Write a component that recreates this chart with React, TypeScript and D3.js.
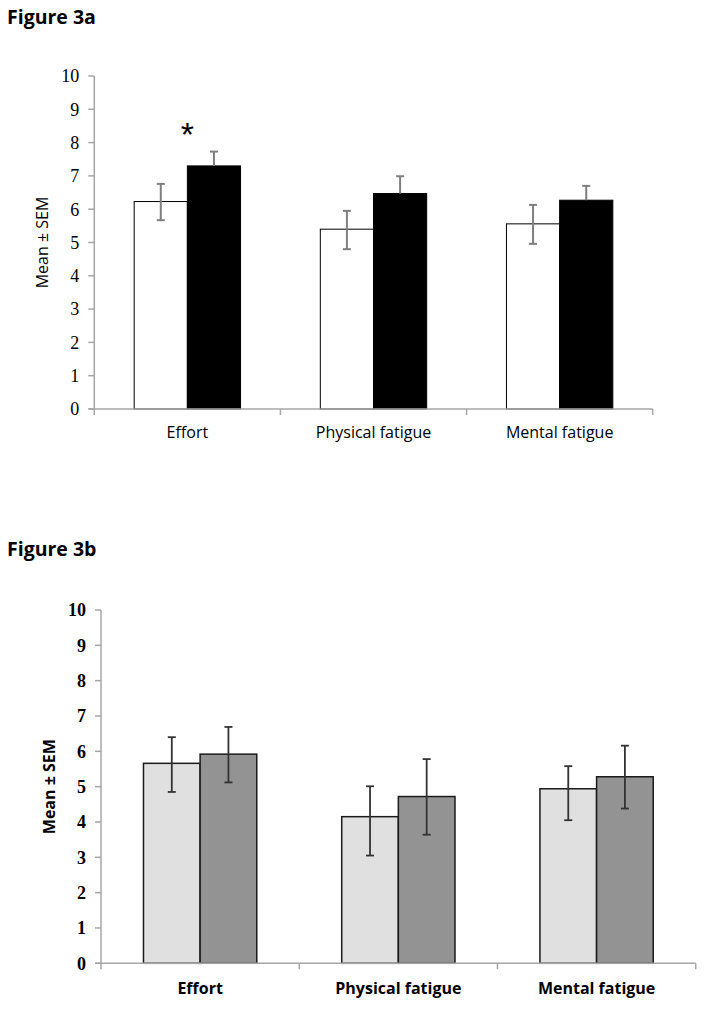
import { useRef, useEffect } from 'react';
import * as d3 from 'd3';

const categories = ['Effort', 'Physical fatigue', 'Mental fatigue'];
const yTicks = [0, 1, 2, 3, 4, 5, 6, 7, 8, 9, 10];

// Figure 3a (black series shows the upper error bar only)
const aMeanWhite = [6.23, 5.4, 5.56];
const aErrHiWhite = [6.76, 5.95, 6.13];
const aErrLoWhite = [5.67, 4.8, 4.96];
const aMeanBlack = [7.3, 6.47, 6.27];
const aErrHiBlack = [7.73, 6.99, 6.7];
const aErrLoBlack = [7.3, 6.47, 6.27];
const aSignificant = [true, false, false];

// Figure 3b
const bMeanLight = [5.66, 4.15, 4.94];
const bErrHiLight = [6.4, 5.01, 5.58];
const bErrLoLight = [4.85, 3.05, 4.05];
const bMeanDark = [5.92, 4.72, 5.28];
const bErrHiDark = [6.69, 5.78, 6.16];
const bErrLoDark = [5.12, 3.64, 4.38];

interface Series {
  mean: number[];
  hi: number[];
  lo: number[];
  fill: string;
}

interface PanelOpts {
  title: string;
  titleY: number;
  left: number;
  right: number;
  top: number;
  bottom: number;
  series: Series[];
  barStroke: string;
  barStrokeWidth: number;
  errColor: string;
  errWidth: number;
  bold: boolean;
  labelY: number;
  labelSize: number;
  starFlags?: boolean[];
}

function drawPanel(svg: d3.Selection<SVGSVGElement, unknown, null, undefined>, o: PanelOpts) {
  const g = svg.append('g');
  const axisColor = '#a6a6a6';

  const x = d3.scaleBand<string>().domain(categories).range([o.left, o.right]).paddingInner(0).paddingOuter(0);
  const y = d3.scaleLinear().domain([0, 10]).range([o.bottom, o.top]);
  // Excel-like gap width of 150%
  const inner = d3.scaleBand<number>()
    .domain(d3.range(o.series.length))
    .range([0, x.bandwidth()])
    .paddingInner(0)
    .paddingOuter(0.75);

  // title
  svg.append('text')
    .attr('x', 7)
    .attr('y', o.titleY)
    .attr('font-family', '"Open Sans", sans-serif')
    .attr('font-weight', 700)
    .attr('font-size', 19.5)
    .text(o.title);

  // y axis
  g.append('line')
    .attr('x1', o.left).attr('x2', o.left)
    .attr('y1', y(10)).attr('y2', y(0))
    .attr('stroke', axisColor).attr('stroke-width', 1.5);
  yTicks.forEach((t) => {
    g.append('line')
      .attr('x1', o.left - 6).attr('x2', o.left)
      .attr('y1', y(t)).attr('y2', y(t))
      .attr('stroke', axisColor).attr('stroke-width', 1.5);
    g.append('text')
      .attr('x', o.left - 15)
      .attr('y', y(t))
      .attr('dy', '0.35em')
      .attr('text-anchor', 'end')
      .attr('font-family', '"Liberation Serif", serif')
      .attr('font-weight', o.bold ? 700 : 400)
      .attr('font-size', 18)
      .text(t);
  });

  // y title
  g.append('text')
    .attr('transform', `translate(${o.left - 52},${y(5)}) rotate(-90)`)
    .attr('text-anchor', 'middle')
    .attr('dominant-baseline', 'central')
    .attr('font-family', '"Open Sans", sans-serif')
    .attr('font-weight', o.bold ? 700 : 400)
    .attr('font-size', 16)
    .text('Mean ± SEM');

  // bars
  o.series.forEach((s, si) => {
    categories.forEach((c, ci) => {
      const bx = (x(c) ?? 0) + (inner(si) ?? 0);
      g.append('rect')
        .attr('x', bx)
        .attr('y', y(s.mean[ci]))
        .attr('width', inner.bandwidth())
        .attr('height', y(0) - y(s.mean[ci]))
        .attr('fill', s.fill)
        .attr('stroke', o.barStroke)
        .attr('stroke-width', o.barStrokeWidth);
    });
  });

  // error bars
  o.series.forEach((s, si) => {
    categories.forEach((c, ci) => {
      const cx = (x(c) ?? 0) + (inner(si) ?? 0) + inner.bandwidth() / 2;
      g.append('line')
        .attr('x1', cx).attr('x2', cx)
        .attr('y1', y(s.hi[ci])).attr('y2', y(s.lo[ci]))
        .attr('stroke', o.errColor).attr('stroke-width', o.errWidth);
      [s.hi[ci], s.lo[ci]].forEach((v) => {
        if (v === s.mean[ci]) return;
        g.append('line')
          .attr('x1', cx - 4).attr('x2', cx + 4)
          .attr('y1', y(v)).attr('y2', y(v))
          .attr('stroke', o.errColor).attr('stroke-width', o.errWidth);
      });
    });
  });

  // x axis
  g.append('line')
    .attr('x1', o.left - 6).attr('x2', o.right)
    .attr('y1', y(0)).attr('y2', y(0))
    .attr('stroke', axisColor).attr('stroke-width', 1.5);
  [o.left, ...categories.map((c) => (x(c) ?? 0) + x.bandwidth())].forEach((tx) => {
    g.append('line')
      .attr('x1', tx).attr('x2', tx)
      .attr('y1', y(0)).attr('y2', y(0) + 6)
      .attr('stroke', axisColor).attr('stroke-width', 1.5);
  });

  categories.forEach((c) => {
    g.append('text')
      .attr('x', (x(c) ?? 0) + x.bandwidth() / 2)
      .attr('y', o.labelY)
      .attr('text-anchor', 'middle')
      .attr('font-family', '"Open Sans", sans-serif')
      .attr('font-weight', o.bold ? 700 : 400)
      .attr('font-size', o.labelSize)
      .text(c);
  });

  // significance marker
  if (o.starFlags) {
    categories.forEach((c, ci) => {
      if (!o.starFlags![ci]) return;
      g.append('text')
        .attr('x', (x(c) ?? 0) + x.bandwidth() / 2)
        .attr('y', y(8.5) + 20)
        .attr('text-anchor', 'middle')
        .attr('font-family', '"Liberation Sans", sans-serif')
        .attr('font-size', 34)
        .text('*');
    });
  }
}

export default function App() {
  const svgRef = useRef<SVGSVGElement>(null);

  useEffect(() => {
    document.body.style.margin = '0';
    if (!svgRef.current) return;
    const svg = d3.select(svgRef.current);
    svg.selectAll('*').remove();

    drawPanel(svg, {
      title: 'Figure 3a',
      titleY: 24,
      left: 94.3,
      right: 652.7,
      top: 76,
      bottom: 409,
      series: [
        { mean: aMeanWhite, hi: aErrHiWhite, lo: aErrLoWhite, fill: '#ffffff' },
        { mean: aMeanBlack, hi: aErrHiBlack, lo: aErrLoBlack, fill: '#000000' },
      ],
      barStroke: '#000000',
      barStrokeWidth: 1,
      errColor: '#7f7f7f',
      errWidth: 2,
      bold: false,
      labelY: 438,
      labelSize: 16,
      starFlags: aSignificant,
    });

    drawPanel(svg, {
      title: 'Figure 3b',
      titleY: 556,
      left: 101,
      right: 695.7,
      top: 610,
      bottom: 963.3,
      series: [
        { mean: bMeanLight, hi: bErrHiLight, lo: bErrLoLight, fill: '#e0e0e0' },
        { mean: bMeanDark, hi: bErrHiDark, lo: bErrLoDark, fill: '#939393' },
      ],
      barStroke: '#1a1a1a',
      barStrokeWidth: 1.5,
      errColor: '#333333',
      errWidth: 1.8,
      bold: true,
      labelY: 994,
      labelSize: 16,
    });
  }, []);

  return <svg ref={svgRef} width={706} height={1012} style={{ display: 'block', background: '#fff' }} />;
}
